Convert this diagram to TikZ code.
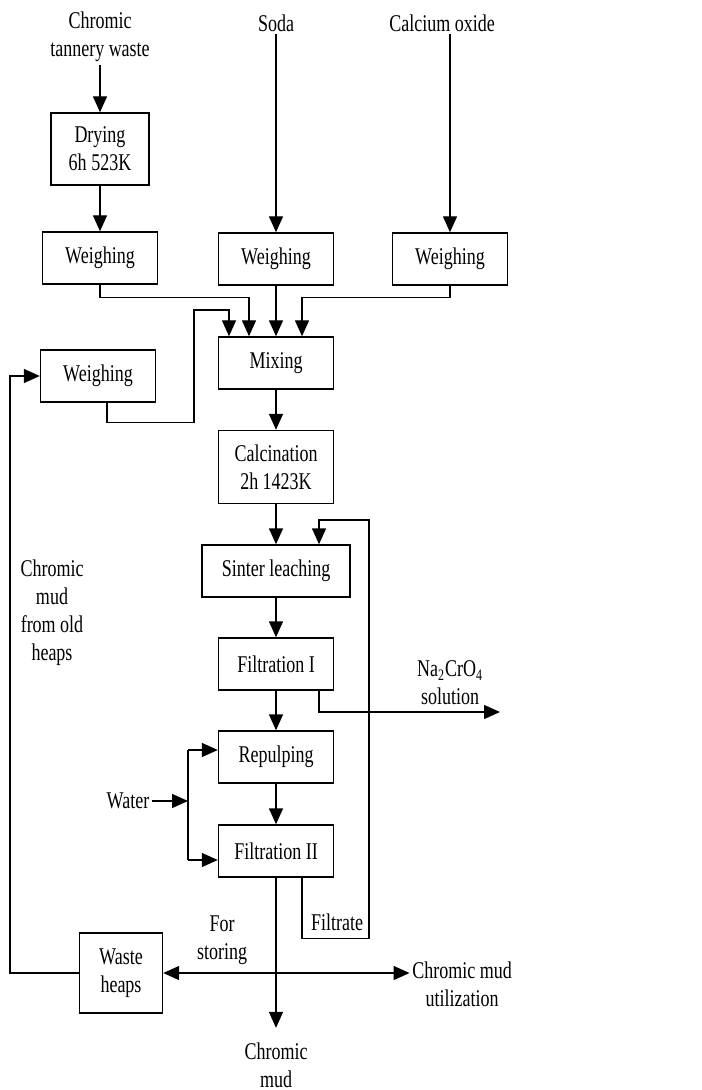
\documentclass[tikz,border=0pt]{standalone}
\usepackage{fontspec}
\setmainfont{Liberation Serif}[FakeStretch=0.75]
\usepackage{tikz}
\usetikzlibrary{arrows.meta,calc}

\begin{document}
\begin{tikzpicture}[x=0.5pt,y=-0.5pt,line width=0.7pt,
  font=\fontsize{12}{14}\selectfont,
  >={Triangle[length=8pt,width=7pt]},
  box/.style={draw,align=center,minimum width=57.5pt,minimum height=26pt,inner sep=1pt},
  lbl/.style={align=center,inner sep=1pt}]
\useasboundingbox (0,0) rectangle (701,1090);

% inputs
\node[lbl] (waste) at (100,37) {Chromic\\tannery waste};
\node[lbl] (soda) at (276,23) {Soda};
\node[lbl] (cao) at (442,23) {Calcium oxide};

% process boxes
\node[box,minimum width=49pt,minimum height=36pt] (dry) at (100,149) {Drying\\6h 523K};
\node[box] (w1) at (100,258) {Weighing};
\node[box] (w2) at (276,259) {Weighing};
\node[box] (w3) at (450,259) {Weighing};
\node[box] (w4) at (98,376) {Weighing};
\node[box] (mix) at (276,363) {Mixing};
\node[box,minimum height=36.5pt] (calc) at (276,467) {Calcination\\2h 1423K};
\node[box,minimum width=74pt] (sint) at (276,571) {Sinter leaching};
\node[box] (f1) at (276,664) {Filtration I};
\node[box] (rep) at (276,757) {Repulping};
\node[box] (f2) at (276,851) {Filtration II};
\node[box,minimum width=41.5pt,minimum height=40pt] (heap) at (121,973) {Waste\\heaps};

% other labels
\node[lbl] (old) at (52,613) {Chromic\\mud\\from old\\heaps};
\node[lbl] (na) at (450,683) {Na\textsubscript{2}CrO\textsubscript{4}\\solution};
\node[lbl] (water) at (128,801) {Water};
\node[lbl] (filt) at (337,922) {Filtrate};
\node[lbl] (store) at (222,940) {For\\storing};
\node[lbl] (util) at (462,984) {Chromic mud\\utilization};
\node[lbl,inner ysep=7pt] (mud) at (276,1065) {Chromic\\mud};

\coordinate (naend) at (500,712);
\coordinate (wj) at (188,801);
\coordinate (wt) at (188,750);
\coordinate (wb) at (188,860);

\draw[->] (waste) -- (dry);
\draw[->] (dry) -- (w1);
\draw[->] (soda) -- (w2);
\draw[->] (cao.south -| w3) -- (w3);

\draw[->] (w1.south) -- ++(0,13) -| ($(mix.north)+(-27,0)$);
\draw[->] (w2) -- (mix);
\draw[->] (w3.south) -- ++(0,12) -| ($(mix.north)+(26,0)$);
\draw[->] (w4.south) ++(9,0) -- ++(0,20) -| (194,310) -| ($(mix.north)+(-47,0)$);

\draw[->] (mix) -- (calc);
\draw[->] (calc) -- (sint);
\draw[->] (sint) -- (f1);
\draw[->] (f1) -- (rep);
\draw[->] (rep) -- (f2);

\draw[->] ($(f1.south)+(43,0)$) |- (naend);
\draw[->] ($(f2.south)+(26,0)$) -- ++(0,61) -| (369,520) -| ($(sint.north)+(43,0)$);

\draw[->] (water.east) -- (wj);
\draw (wt) -- (wb);
\draw[->] (wt) -- (wt -| rep.west);
\draw[->] (wb) -- (wb -| f2.west);

\draw[->] (f2) -- (mud);
\draw[<->] (heap.east) -- (util.west |- heap.east);
\draw[->] (heap.west) -- ++(-69,0) |- (w4.west);
\end{tikzpicture}
\end{document}
